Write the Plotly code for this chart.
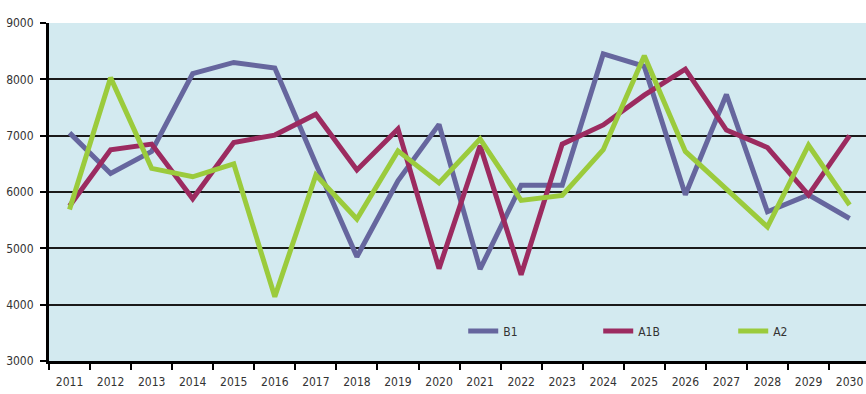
import plotly.graph_objects as go

years = [str(y) for y in range(2011, 2031)]
b1 = [7050, 6330, 6720, 8100, 8300, 8200, 6500, 4850, 6200, 7200,
      4630, 6120, 6120, 8450, 8230, 5950, 7730, 5650, 5950, 5530]
a1b = [5750, 6750, 6850, 5880, 6880, 7010, 7380, 6390, 7120, 4640,
       6820, 4530, 6850, 7190, 7720, 8180, 7100, 6790, 5950, 7000]
a2 = [5690, 8030, 6420, 6270, 6500, 4140, 6300, 5520, 6730, 6160,
      6940, 5850, 5940, 6750, 8420, 6720, 6050, 5380, 6830, 5770]

series = [("B1", b1, "#66669e"), ("A1B", a1b, "#9c2b60"), ("A2", a2, "#9bcb3c")]

fig = go.Figure()
for name, vals, col in series:
    fig.add_trace(go.Scatter(x=years, y=vals, name=name, mode="lines",
                             line=dict(color=col, width=5)))

font = dict(family="DejaVu Sans Condensed, Liberation Sans Narrow, sans-serif", size=12, color="#333333")

fig.update_layout(
    width=866, height=394,
    margin=dict(l=49, r=0, t=23, b=33, autoexpand=False),
    paper_bgcolor="white",
    plot_bgcolor="#d3eaf0",
    font=font,
    showlegend=True,
    legend=dict(orientation="h", x=0.507, xanchor="left", y=0.089, yanchor="middle",
                bgcolor="rgba(0,0,0,0)", entrywidth=90, entrywidthmode="pixels",
                font=font),
    xaxis=dict(type="category", range=[-0.5, 19.4], tickson="boundaries",
               ticks="outside", ticklen=6, tickwidth=2, tickcolor="black",
               showline=True, linecolor="black", linewidth=3, tickangle=0,
               automargin=False,
               showgrid=False, zeroline=False, ticklabelstandoff=8),
    yaxis=dict(range=[3000, 9000], tickvals=[3000, 4000, 5000, 6000, 7000, 8000, 9000],
               ticks="outside", ticklen=6, tickwidth=2, tickcolor="black",
               showline=True, linecolor="black", linewidth=3, automargin=False,
               showgrid=True, gridcolor="#1a1a1a", gridwidth=2, zeroline=False,
               ticklabelstandoff=4),
)

fig.write_html("out.html")
